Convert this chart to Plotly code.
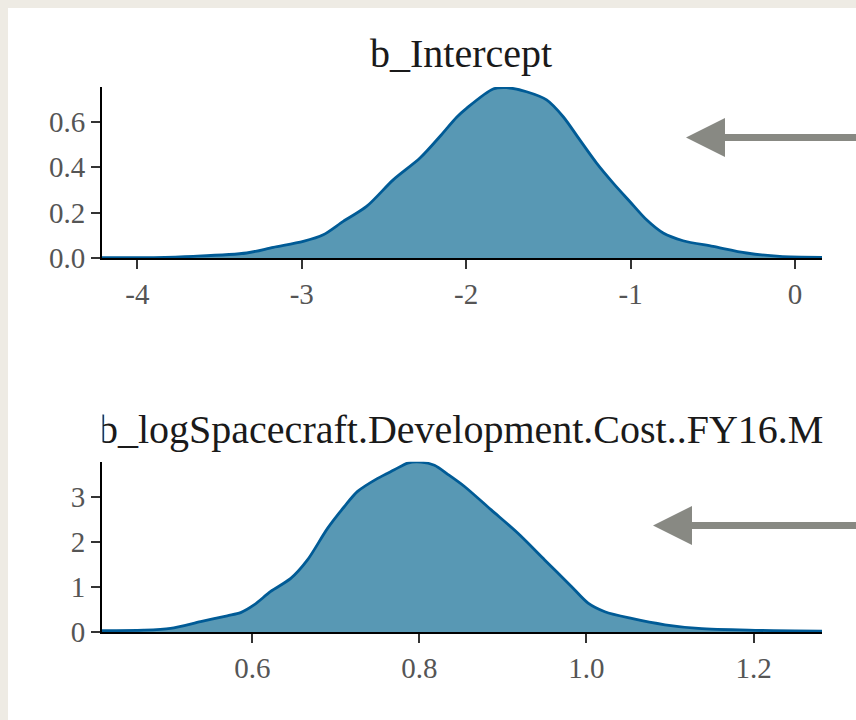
import plotly.graph_objects as go

W, H = 856, 720

# ---- data ----
intercept_x = [-4.215, -3.9, -3.66, -3.335, -3.173, -2.991, -2.869, -2.748, -2.606, -2.444,
               -2.281, -2.16, -2.058, -1.998, -1.836, -1.755, -1.633, -1.511, -1.41, -1.309,
               -1.207, -1.106, -1.005, -0.903, -0.802, -0.681, -0.499, -0.295, -0.093, 0.164]
intercept_d = [0.001, 0.002, 0.007, 0.022, 0.047, 0.073, 0.102, 0.161, 0.227, 0.344,
               0.44, 0.535, 0.62, 0.659, 0.744, 0.75, 0.732, 0.696, 0.622, 0.52,
               0.418, 0.33, 0.249, 0.168, 0.11, 0.076, 0.051, 0.022, 0.007, 0.003]

cost_x = [0.42, 0.47, 0.502, 0.538, 0.57, 0.586, 0.602, 0.622, 0.646, 0.666,
          0.69, 0.71, 0.726, 0.75, 0.77, 0.786, 0.802, 0.818, 0.834, 0.854,
          0.886, 0.918, 0.95, 0.982, 1.002, 1.022, 1.054, 1.094, 1.134, 1.194, 1.282]
cost_d = [0.03, 0.04, 0.08, 0.23, 0.36, 0.43, 0.6, 0.9, 1.19, 1.6,
          2.3, 2.78, 3.12, 3.41, 3.6, 3.75, 3.77, 3.7, 3.5, 3.23,
          2.71, 2.19, 1.6, 1.01, 0.64, 0.45, 0.3, 0.16, 0.08, 0.04, 0.02]

titles = ["b_Intercept", "b_logSpacecraft.Development.Cost..FY16.M"]

top_xticks = [-4, -3, -2, -1, 0]
top_xticklabels = ["-4", "-3", "-2", "-1", "0"]
top_yticks = [0, 0.2, 0.4, 0.6]
top_yticklabels = ["0.0", "0.2", "0.4", "0.6"]
bot_xticks = [0.6, 0.8, 1.0, 1.2]
bot_xticklabels = ["0.6", "0.8", "1.0", "1.2"]
bot_yticks = [0, 1, 2, 3]
bot_yticklabels = ["0", "1", "2", "3"]

top_xrange = [-4.215, 0.164]
top_yrange = [0, 0.753]
bot_xrange = [0.42, 1.282]
bot_yrange = [0, 3.78]

# ---- style ----
FILL = "#5898b4"
LINE = "#005b96"
ARROW = "#888983"
BEIGE = "#eeebe4"
FONT = "Liberation Serif"


def px(x):
    return x / W


def py(y):
    return 1 - y / H


fig = go.Figure()
fig.add_trace(go.Scatter(x=intercept_x, y=intercept_d, mode="lines", fill="tozeroy",
                         fillcolor=FILL, line=dict(color=LINE, width=2.8, shape="spline", smoothing=0.8),
                         xaxis="x", yaxis="y", showlegend=False, hoverinfo="skip"))
fig.add_trace(go.Scatter(x=cost_x, y=cost_d, mode="lines", fill="tozeroy",
                         fillcolor=FILL, line=dict(color=LINE, width=2.8, shape="spline", smoothing=0.8),
                         xaxis="x2", yaxis="y2", showlegend=False, hoverinfo="skip"))

axis_common = dict(showline=True, linecolor="black", linewidth=2, ticks="outside", ticklen=9,
                   tickwidth=1.5, tickcolor="#333333", showgrid=False, zeroline=False,
                   automargin=False,
                   tickfont=dict(family=FONT, size=29, color="#555555"), fixedrange=True)

x_dom = [px(102), px(822)]
fig.update_layout(
    width=W, height=H,
    margin=dict(l=0, r=0, t=0, b=0, pad=0),
    paper_bgcolor=BEIGE,
    plot_bgcolor="white",
    xaxis=dict(domain=x_dom, range=top_xrange, tickvals=top_xticks, ticktext=top_xticklabels,
               anchor="y", **axis_common),
    yaxis=dict(domain=[py(258), py(87)], range=top_yrange, tickvals=top_yticks,
               ticktext=top_yticklabels, anchor="x", **axis_common),
    xaxis2=dict(domain=x_dom, range=bot_xrange, tickvals=bot_xticks, ticktext=bot_xticklabels,
                anchor="y2", **axis_common),
    yaxis2=dict(domain=[py(632), py(461.7)], range=bot_yrange, tickvals=bot_yticks,
                ticktext=bot_yticklabels, anchor="x2", **axis_common),
)

shapes = [
    dict(type="rect", xref="paper", yref="paper", x0=px(8), x1=1, y0=0, y1=py(8),
         fillcolor="white", line=dict(width=0), layer="below"),
]
# arrows (decorations)
for cy, tip, base in [(137.5, 686, 725), (525.5, 653, 692)]:
    shapes.append(dict(type="rect", xref="paper", yref="paper", x0=px(base - 1), x1=1,
                       y0=py(cy + 3.5), y1=py(cy - 3.5), fillcolor=ARROW, line=dict(width=0),
                       layer="above"))
    shapes.append(dict(type="path", xref="paper", yref="paper",
                       path=f"M {px(tip)},{py(cy)} L {px(base)},{py(cy - 19.5)} L {px(base)},{py(cy + 19.5)} Z",
                       fillcolor=ARROW, line=dict(width=0), layer="above"))
fig.update_layout(shapes=shapes)

fig.add_annotation(text=titles[0], xref="paper", yref="paper", x=px(461), y=py(54),
                   xanchor="center", yanchor="middle", showarrow=False,
                   font=dict(family=FONT, size=40, color="#1a1a1a"))
fig.add_annotation(text=titles[1], xref="paper", yref="paper", x=px(461), y=py(429),
                   xanchor="center", yanchor="middle", showarrow=False,
                   font=dict(family=FONT, size=40, color="#1a1a1a"))
# white mask reproducing the clipped left edge of the second title
fig.add_annotation(text=" ", xref="paper", yref="paper", x=px(103), y=py(430),
                   xanchor="right", yanchor="middle", showarrow=False, width=50, height=46,
                   bgcolor="white", borderpad=0, font=dict(size=10))

fig.write_html("out.html")
